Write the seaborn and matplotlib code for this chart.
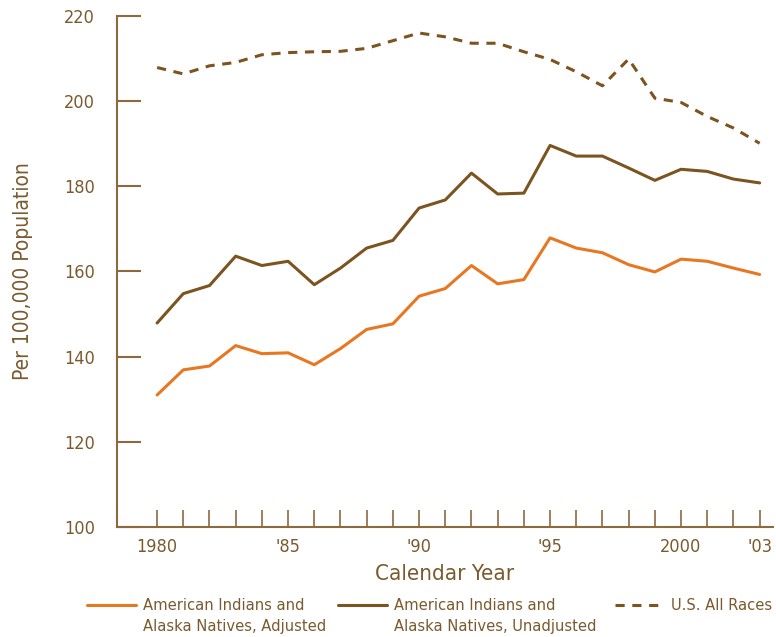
import pandas as pd
import matplotlib.pyplot as plt
import seaborn as sns

years = list(range(1980, 2004))
adjusted = [131.0, 136.9, 137.8, 142.6, 140.7, 140.9, 138.1, 141.9, 146.4, 147.7,
            154.2, 156.0, 161.4, 157.1, 158.1, 167.9, 165.5, 164.4, 161.6, 159.9,
            162.9, 162.4, 160.8, 159.3]
unadjusted = [147.9, 154.8, 156.7, 163.6, 161.4, 162.4, 156.9, 160.8, 165.5, 167.3,
              174.9, 176.8, 183.1, 178.2, 178.4, 189.6, 187.1, 187.1, 184.3, 181.4,
              184.0, 183.5, 181.7, 180.8]
all_races = [207.9, 206.4, 208.3, 209.1, 210.9, 211.4, 211.6, 211.7, 212.4, 214.2,
             216.0, 215.1, 213.6, 213.6, 211.6, 209.8, 206.9, 203.6, 209.9, 200.7,
             199.7, 196.4, 193.7, 190.1]
tick_labels = {1980: "1980", 1985: "'85", 1990: "'90", 1995: "'95", 2000: "2000", 2003: "'03"}
series_names = ["American Indians and\nAlaska Natives, Adjusted",
                "American Indians and\nAlaska Natives, Unadjusted",
                "U.S. All Races"]

df = pd.DataFrame({"year": years, "adj": adjusted, "unadj": unadjusted, "us": all_races})

sns.set_style("white")
plt.rcParams['font.family'] = ['DejaVu Sans']
plt.rcParams['font.stretch'] = 'condensed'
txt = "#7a5a2e"
axc = "#8b6b3d"
orange = "#e87722"
brown = "#7b5420"

fig = plt.figure(figsize=(7.76, 6.37), dpi=100)
ax = fig.add_axes([0.1508, 0.1727, 0.845, 0.8022])

sns.lineplot(data=df, x="year", y="adj", color=orange, lw=2.2, ax=ax, label=series_names[0])
sns.lineplot(data=df, x="year", y="unadj", color=brown, lw=2.2, ax=ax, label=series_names[1])
sns.lineplot(data=df, x="year", y="us", color=brown, lw=2.2, ax=ax, label=series_names[2],
             linestyle=(0, (3, 2.5)))

ax.set_xlim(1978.47, 2003.5)
ax.set_ylim(100, 220)
ax.set_yticks(range(100, 221, 20))
ax.set_xticks(years)
ax.set_xticklabels([tick_labels.get(y, "") for y in years])

for s in ["top", "right"]:
    ax.spines[s].set_visible(False)
for s in ["left", "bottom"]:
    ax.spines[s].set_color(axc)
    ax.spines[s].set_linewidth(1.5)

ax.tick_params(axis="y", left=True, direction="in", length=17, width=1.5, color=axc,
               labelcolor=txt, labelsize=13, pad=16)
ax.tick_params(axis="x", bottom=True, direction="in", length=12, width=1.2, color=axc,
               labelcolor=txt, labelsize=13, pad=8)

ax.set_xlabel("Calendar Year", color=txt, fontsize=16, labelpad=6)
ax.set_ylabel("Per 100,000 Population", color=txt, fontsize=15, labelpad=22)

handles, labels = ax.get_legend_handles_labels()
ax.get_legend().remove()
# one legend per entry; handle sits on the first text line like the reference
fs = 11.8
for h, l, x0 in zip(handles, labels, [87, 338, 615]):
    first, *rest = l.split("\n")
    leg = fig.legend([h], [first], loc="center left",
                     bbox_to_anchor=(x0 / 776, 1 - 606 / 637),
                     frameon=False, fontsize=fs, handlelength=3.0,
                     handletextpad=0.4, borderpad=0, borderaxespad=0)
    for t in leg.get_texts():
        t.set_color(txt)
    if rest:
        tx = x0 + (3.0 + 0.4) * fs * 100 / 72
        fig.text(tx / 776, 1 - 626 / 637, rest[0], color=txt, fontsize=fs,
                 ha="left", va="center")

fig.savefig("out.png", dpi=100)
